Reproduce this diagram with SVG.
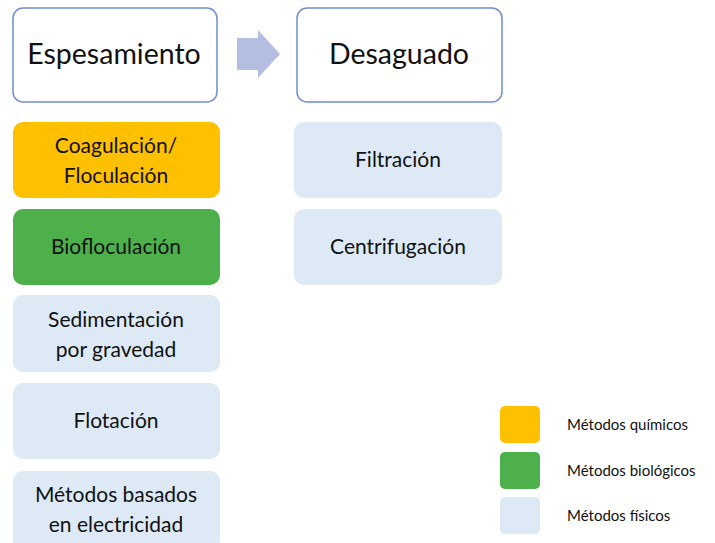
<svg xmlns="http://www.w3.org/2000/svg" width="715" height="543" viewBox="0 0 715 543">
<style>
text{font-family:Lato,"Open Sans","Liberation Sans",sans-serif;fill:#111;text-anchor:middle}
.hd{fill:#fff;stroke:#6F8DD0;stroke-width:1.5}
.t1{font-size:28.5px}
.t2{font-size:21px}
.lg{font-size:15px;text-anchor:start}
.or{fill:#FFC000}
.gr{fill:#4EB04A}
.bl{fill:#DDEAF6}
</style>
<rect width="715" height="543" fill="#fff"/>
<g id="espesamiento"><rect class="hd" x="13" y="8" width="204" height="94" rx="10"/><text class="t1" x="114" y="64">Espesamiento</text></g>
<g id="desaguado"><rect class="hd" x="297" y="8" width="205" height="94" rx="10"/><text class="t1" x="399" y="64">Desaguado</text></g>
<g id="connectors"><polygon points="237,38 258,38 258,30 280,54 258,78 258,70 237,70" fill="#B4BEE3"/></g>
<g id="coagulacion"><rect class="or" x="13" y="122" width="207" height="76" rx="10"/><text class="t2" x="116" y="153">Coagulación/</text><text class="t2" x="116" y="183">Floculación</text></g>
<g id="biofloculacion"><rect class="gr" x="13" y="209" width="207" height="76" rx="10"/><text class="t2" x="116" y="254">Biofloculación</text></g>
<g id="sedimentacion"><rect class="bl" x="13" y="295" width="207" height="77" rx="10"/><text class="t2" x="116" y="327">Sedimentación</text><text class="t2" x="116" y="357">por gravedad</text></g>
<g id="flotacion"><rect class="bl" x="13" y="383" width="207" height="76" rx="10"/><text class="t2" x="116" y="428">Flotación</text></g>
<g id="electricidad"><rect class="bl" x="13" y="471" width="207" height="80" rx="10"/><text class="t2" x="116" y="502">Métodos basados</text><text class="t2" x="116" y="532">en electricidad</text></g>
<g id="filtracion"><rect class="bl" x="294" y="122" width="208" height="76" rx="10"/><text class="t2" x="398" y="167">Filtración</text></g>
<g id="centrifugacion"><rect class="bl" x="294" y="209" width="208" height="76" rx="10"/><text class="t2" x="398" y="254">Centrifugación</text></g>
<g id="legend">
<rect class="or" x="500" y="406" width="40" height="37" rx="5"/><text class="lg" x="567" y="430">Métodos químicos</text>
<rect class="gr" x="500" y="452" width="40" height="37" rx="5"/><text class="lg" x="567" y="476">Métodos biológicos</text>
<rect class="bl" x="500" y="497" width="40" height="37" rx="5"/><text class="lg" x="567" y="521">Métodos físicos</text>
</g>
</svg>
